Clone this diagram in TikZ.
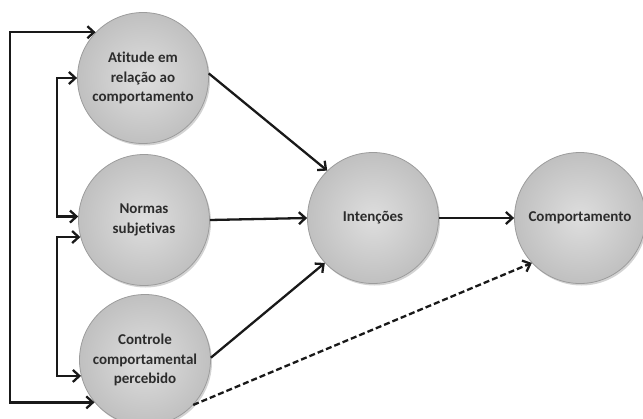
\documentclass[tikz,border=0pt]{standalone}
\usepackage{fontspec}
\setmainfont{Carlito}[Ligatures=NoCommon]
\usetikzlibrary{arrows.meta,shadows}
\definecolor{rim}{HTML}{9C9C9C}
\definecolor{inner}{HTML}{DEDEDE}
\definecolor{outer}{HTML}{C0C0C0}
\definecolor{txt}{HTML}{2C2C2C}
\tikzset{
  bubble/.style={circle, minimum size=131pt, inner sep=0pt, draw=rim, line width=0.8pt,
    inner color=inner, outer color=outer,
    drop shadow={shadow xshift=1.5pt, shadow yshift=-2pt, opacity=0.35}},
  lbl/.style={font=\bfseries\fontsize{15}{19.5}\selectfont, text=txt, align=center, inner sep=0pt},
  conn/.style={line width=2.3pt, draw=black!90, -{Straight Barb[length=6.5pt,width=12pt,line width=2.3pt]}},
  conn2/.style={line width=2.3pt, draw=black!90, {Straight Barb[length=6.5pt,width=12pt,line width=2.3pt]}-{Straight Barb[length=6.5pt,width=12pt,line width=2.3pt]}},
}
\begin{document}
\begin{tikzpicture}[x=1pt,y=-1pt]
\useasboundingbox (0,0) rectangle (643,418);
\coordinate (O) at (10,0);
\coordinate (L) at (57,0);
\node[bubble] (at) at (143,78) {};
\node[lbl] (att) at (at) {Atitude em\\relação ao\\comportamento};
\node[bubble] (nor) at (144,220) {};
\node[lbl] (nort) at (nor) {Normas\\subjetivas};
\node[bubble] (ctl) at (145,360) {};
\node[lbl] (ctlt) at (ctl) {Controle\\comportamental\\percebido};
\node[bubble] (int) at (373,218) {};
\node[lbl] (intt) at (int) {Intenções};
\node[bubble] (cmp) at (580,218) {};
\node[lbl] (cmpt) at (cmp) {Comportamento};

\draw[conn] (at.4) -- (int.134);
\draw[conn] (nor.east) -- (int.west);
\draw[conn] (ctl.2) -- (int.223);
\draw[conn] (int.east) -- (cmp.west);
\draw[conn, dash pattern=on 6pt off 3pt] (ctl.-43) -- (cmp.223);

\draw[conn2] (at.136) -- (at.136 -| O) |- (ctl.220);
\draw[conn2] (at.west) -- (at.west -| L) |- (nor.177);
\draw[conn2] (nor.195) -- (nor.195 -| L) |- (ctl.194);
\end{tikzpicture}
\end{document}
